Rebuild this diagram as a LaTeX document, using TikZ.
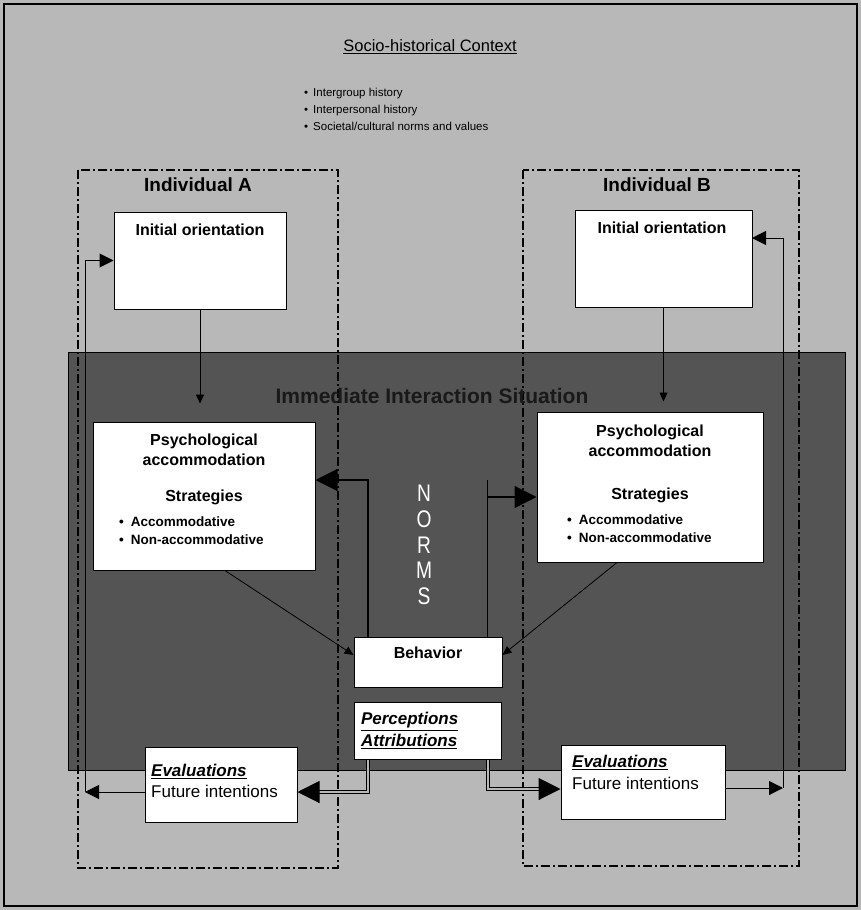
\documentclass[tikz,border=0pt]{standalone}
\usepackage{fontspec}
\setmainfont{Liberation Sans}
\usepackage{graphicx}
\usepackage{tikz}
\usetikzlibrary{arrows.meta,calc}

\definecolor{Paper}{gray}{0.72}
\definecolor{Shade}{gray}{0.33}

\begin{document}
\begin{tikzpicture}[x=1pt, y=-1pt]
		\tikzstyle{Box}		= [rectangle, draw, fill=white, line width=1pt, inner sep=0pt]
		\tikzstyle{Head}	= [font=\fontsize{16}{20}\selectfont\bfseries, align=center, inner sep=0pt]
		\tikzstyle{Who}		= [font=\fontsize{19}{21}\selectfont\bfseries, inner sep=0pt]
		\tikzstyle{Title}	= [font=\fontsize{16.5}{20}\selectfont, inner sep=0pt]
		\tikzstyle{List}	= [font=\fontsize{11.5}{17}\selectfont, align=left, anchor=west, inner sep=0pt]
		\tikzstyle{Opts}	= [font=\fontsize{13.5}{18}\selectfont\bfseries, align=left, anchor=west, inner sep=0pt]
		\tikzstyle{Eval}	= [font=\fontsize{17}{21.5}\selectfont, align=left, inner sep=0pt]
		\tikzstyle{Region}	= [line width=1.2pt, dash pattern=on 9pt off 3pt on 2pt off 3pt]
		\tikzstyle{Line}	= [line width=1pt]
		\tikzstyle{Thin}	= [line width=0.8pt, -{Triangle[length=9pt, width=8pt]}]
		\tikzstyle{Loop}	= [line width=1pt, -{Triangle[length=14pt, width=14pt]}]
		\tikzstyle{Norm}	= [line width=1.2pt, -{Triangle[length=22pt, width=22pt]}]
		\tikzstyle{Flow}	= [line width=1pt, double=Paper, double distance=2.5pt, -{Triangle[length=22pt, width=22pt]}]
		
		\fill[Paper] (0, 0) rectangle (861, 910);
		\draw[line width=1.2pt] (4, 4) rectangle (857, 906);
		\fill[Shade, draw=black] (68, 352) rectangle (845, 770);
		\draw[Region] (78, 170) rectangle (338, 868);
		\draw[Region] (523, 170) rectangle (799, 866);
		
		\node (title) at (430, 47) [Title] {\underline{Socio-historical Context}};
		\node (hist) at (304, 109) [List] {\textbullet\hspace{5pt}Intergroup history\\ \textbullet\hspace{5pt}Interpersonal history\\ \textbullet\hspace{5pt}Societal/cultural norms and values};
		\node (whoA) at (198, 185) [Who] {Individual A};
		\node (whoB) at (657, 185) [Who] {Individual B};
		\node (sit) at (432, 396) [font=\fontsize{21}{24}\selectfont\bfseries, text=black!90] {Immediate Interaction Situation};
		
		\node (initA) at (200, 260.5) [Box, minimum width=172, minimum height=97] {};
		\node (initAt) at (200, 230) [Head] {Initial orientation};
		\node (initB) at (663.5, 258.5) [Box, minimum width=177, minimum height=97] {};
		\node (initBt) at (662, 228) [Head] {Initial orientation};
		
		\node (psychA) at (204, 496) [Box, minimum width=222, minimum height=148] {};
		\node (psychAt) at (204, 450) [Head] {Psychological\\accommodation};
		\node (stratA) at (204, 497) [Head] {Strategies};
		\node (optsA) at (119, 531) [Opts] {\textbullet\hspace{7pt}Accommodative\\ \textbullet\hspace{7pt}Non-accommodative};
		\node (psychB) at (650, 487) [Box, minimum width=226, minimum height=150] {};
		\node (psychBt) at (650, 441) [Head] {Psychological\\accommodation};
		\node (stratB) at (650, 495) [Head] {Strategies};
		\node (optsB) at (567, 528.5) [Opts] {\textbullet\hspace{7pt}Accommodative\\ \textbullet\hspace{7pt}Non-accommodative};
		
		\node (norms) at (424, 545) [font=\fontsize{24}{25.6}\selectfont, text=white, align=center, inner sep=0pt] {\scalebox{0.8}[1]{N}\\ \scalebox{0.8}[1]{O}\\ \scalebox{0.8}[1]{R}\\ \scalebox{0.8}[1]{M}\\ \scalebox{0.8}[1]{S}};
		
		\node (behav) at (428, 662) [Box, minimum width=148, minimum height=50] {};
		\node (behavt) at (428, 653) [Head] {Behavior};
		\node (percep) at (427.5, 730.5) [Box, Eval, minimum width=147, minimum height=57, text width=133] {\underline{\textbf{\textit{Perceptions}}}\\ \underline{\textbf{\textit{Attributions}}}};
		
		\node (evalA) at (221, 784.5) [Box, minimum width=152, minimum height=75] {};
		\node (evalAt) at (151, 781) [Eval, anchor=west] {\underline{\textbf{\textit{Evaluations}}}\\ Future intentions};
		\node (evalB) at (643, 782) [Box, minimum width=164, minimum height=74] {};
		\node (evalBt) at (572, 772.5) [Eval, anchor=west] {\underline{\textbf{\textit{Evaluations}}}\\ Future intentions};
		
		\coordinate (loopA) at (85, 792);
		\coordinate (loopB) at (783, 788);
		\coordinate (retB) at (752, 238);
		\coordinate (normL) at (368, 480);
		\coordinate (normR) at (487, 480);
		\coordinate (normRa) at (487, 497);
		\coordinate (flowA) at (368, 792);
		\coordinate (flowB) at (488, 789);
		
		\draw [Thin] (initA.south) to (initA.south |- psychA.north) [shorten >=18pt];
		\draw [Thin] (initB.south) to (initB.south |- psychB.north) [shorten >=10pt];
		\draw [Loop] (evalA.west |- loopA) to (loopA);
		\draw [Loop] (loopA) |- (initA.west);
		\draw [Loop] (evalB.east |- loopB) to (loopB);
		\draw [Loop] (loopB) |- (retB);
		\draw [Norm] (behav.north -| normL) to (normL) to (psychA.east |- normL);
		\draw [Line] (behav.north -| normR) to (normR);
		\draw [Norm] (normRa) to (psychB.west |- normRa);
		\draw [Thin] ([xshift=21pt]psychA.south) to ([yshift=7pt]behav.west);
		\draw [Thin] ([xshift=-33pt]psychB.south) to ([yshift=7pt]behav.east);
		\draw [Flow] (percep.south -| flowA) to (flowA) to (evalA.east |- flowA);
		\draw [Flow] (percep.south -| flowB) to (flowB) to (evalB.west |- flowB);
	\end{tikzpicture}
\end{document}
